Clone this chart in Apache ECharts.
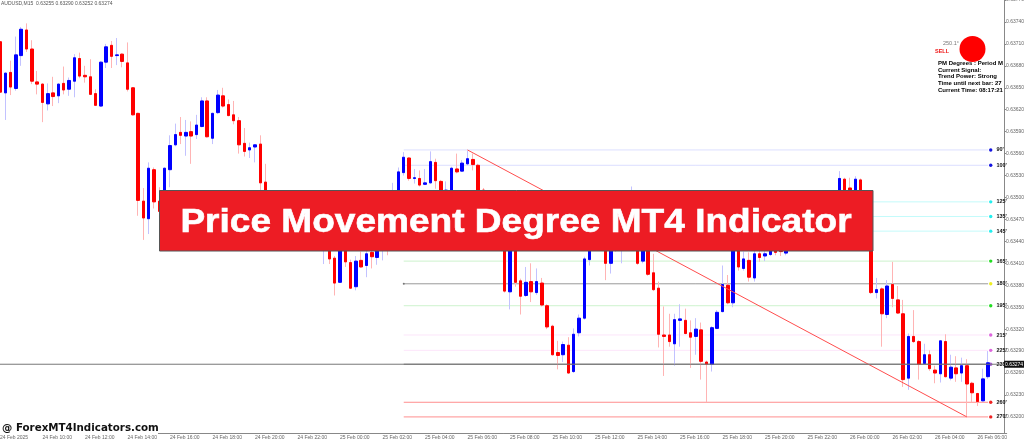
<!DOCTYPE html>
<html>
<head>
<meta charset="utf-8">
<title>Price Movement Degree MT4 Indicator</title>
<script src="https://cdn.jsdelivr.net/npm/echarts@6/dist/echarts.min.js"></script>
<style>
  html, body { margin: 0; padding: 0; background: #fff; overflow: hidden; }
  #chart { width: 1024px; height: 441px; filter: blur(0.45px); }
</style>
</head>
<body>
<div id="chart"></div>
<script>
// AUDUSD M15 bars (bars behind the banner are estimates)
var barOpen = [
  0.63713,0.63643,0.63671,0.63649,0.63694,0.63729,0.63703,0.63658,0.63655,0.63628,0.63643,0.63639,0.63656,0.63648,0.63659,0.63690,
  0.63667,0.63665,0.63642,0.63625,0.63685,0.63708,0.63694,0.63696,0.63684,0.63650,0.63615,0.63495,0.63471,0.63538,0.63495,0.63500,
  0.63538,0.63572,0.63589,0.63584,0.63590,0.63586,0.63597,0.63632,0.63581,0.63616,0.63639,0.63627,0.63613,0.63605,0.63574,0.63565,
  0.63569,0.63573,0.63521,0.63496,0.63478,0.63492,0.63470,0.63455,0.63472,0.63450,0.63440,0.63458,0.63445,0.63432,0.63445,0.63417,
  0.63384,0.63440,0.63411,0.63378,0.63414,0.63407,0.63425,0.63418,0.63430,0.63445,0.63470,0.63480,0.63534,0.63554,0.63526,0.63526,
  0.63518,0.63520,0.63548,0.63522,0.63500,0.63495,0.63539,0.63536,0.63546,0.63552,0.63544,0.63510,0.63485,0.63500,0.63475,0.63450,
  0.63371,0.63440,0.63386,0.63366,0.63385,0.63370,0.63383,0.63352,0.63324,0.63288,0.63285,0.63298,0.63262,0.63315,0.63335,0.63415,
  0.63440,0.63432,0.63445,0.63410,0.63440,0.63430,0.63445,0.63435,0.63450,0.63413,0.63448,0.63397,0.63376,0.63312,0.63312,0.63300,
  0.63332,0.63332,0.63315,0.63310,0.63319,0.63275,0.63272,0.63321,0.63344,0.63380,0.63356,0.63440,0.63403,0.63414,0.63390,0.63423,
  0.63420,0.63422,0.63428,0.63428,0.63424,0.63430,0.63445,0.63435,0.63455,0.63470,0.63455,0.63480,0.63495,0.63480,0.63490,0.63525,
  0.63513,0.63495,0.63524,0.63495,0.63480,0.63370,0.63375,0.63340,0.63381,0.63360,0.63341,0.63253,0.63310,0.63303,0.63273,0.63285,
  0.63264,0.63259,0.63303,0.63253,0.63267,0.63260,0.63270,0.63246,0.63232,0.63222,0.63255
];
var barClose = [
  0.63644,0.63670,0.63651,0.63695,0.63730,0.63703,0.63659,0.63655,0.63630,0.63642,0.63638,0.63655,0.63647,0.63660,0.63691,0.63666,
  0.63665,0.63641,0.63626,0.63685,0.63706,0.63693,0.63695,0.63686,0.63648,0.63613,0.63496,0.63472,0.63540,0.63494,0.63481,0.63540,
  0.63571,0.63586,0.63585,0.63589,0.63584,0.63599,0.63632,0.63583,0.63615,0.63640,0.63625,0.63612,0.63605,0.63572,0.63563,0.63568,
  0.63572,0.63520,0.63495,0.63480,0.63492,0.63470,0.63455,0.63472,0.63450,0.63440,0.63458,0.63445,0.63435,0.63448,0.63416,0.63383,
  0.63440,0.63412,0.63376,0.63413,0.63405,0.63423,0.63419,0.63440,0.63445,0.63432,0.63500,0.63535,0.63555,0.63526,0.63527,0.63517,
  0.63520,0.63549,0.63523,0.63495,0.63510,0.63540,0.63535,0.63547,0.63553,0.63545,0.63490,0.63485,0.63500,0.63475,0.63450,0.63372,
  0.63440,0.63384,0.63365,0.63384,0.63371,0.63385,0.63353,0.63323,0.63285,0.63284,0.63299,0.63260,0.63313,0.63335,0.63416,0.63440,
  0.63432,0.63445,0.63410,0.63440,0.63428,0.63445,0.63435,0.63450,0.63410,0.63450,0.63395,0.63374,0.63313,0.63310,0.63303,0.63333,
  0.63334,0.63314,0.63309,0.63320,0.63276,0.63272,0.63322,0.63343,0.63381,0.63356,0.63440,0.63405,0.63416,0.63391,0.63423,0.63418,
  0.63423,0.63427,0.63425,0.63426,0.63428,0.63445,0.63435,0.63455,0.63470,0.63455,0.63480,0.63495,0.63480,0.63490,0.63526,0.63495,
  0.63495,0.63525,0.63495,0.63480,0.63370,0.63374,0.63341,0.63379,0.63362,0.63342,0.63251,0.63310,0.63303,0.63272,0.63285,0.63266,
  0.63260,0.63304,0.63255,0.63268,0.63259,0.63270,0.63245,0.63233,0.63221,0.63252,0.63274
];
var barLow = [
  0.63641,0.63606,0.63640,0.63646,0.63680,0.63699,0.63655,0.63641,0.63603,0.63619,0.63625,0.63629,0.63641,0.63639,0.63637,0.63663,
  0.63657,0.63640,0.63625,0.63624,0.63677,0.63677,0.63681,0.63678,0.63645,0.63612,0.63475,0.63442,0.63450,0.63485,0.63478,0.63495,
  0.63514,0.63570,0.63573,0.63557,0.63546,0.63580,0.63596,0.63582,0.63573,0.63614,0.63623,0.63611,0.63600,0.63560,0.63556,0.63554,
  0.63548,0.63510,0.63485,0.63474,0.63472,0.63465,0.63450,0.63450,0.63445,0.63436,0.63435,0.63440,0.63430,0.63409,0.63409,0.63366,
  0.63383,0.63405,0.63375,0.63373,0.63404,0.63391,0.63403,0.63408,0.63414,0.63421,0.63465,0.63470,0.63530,0.63523,0.63519,0.63515,
  0.63517,0.63519,0.63512,0.63490,0.63495,0.63490,0.63533,0.63535,0.63544,0.63537,0.63485,0.63480,0.63480,0.63470,0.63440,0.63370,
  0.63347,0.63378,0.63340,0.63364,0.63357,0.63367,0.63351,0.63320,0.63284,0.63265,0.63275,0.63259,0.63260,0.63310,0.63333,0.63407,
  0.63428,0.63428,0.63387,0.63396,0.63426,0.63410,0.63430,0.63430,0.63408,0.63410,0.63393,0.63372,0.63295,0.63256,0.63296,0.63270,
  0.63296,0.63313,0.63267,0.63285,0.63251,0.63220,0.63262,0.63320,0.63343,0.63354,0.63350,0.63400,0.63400,0.63385,0.63385,0.63412,
  0.63413,0.63420,0.63421,0.63420,0.63421,0.63428,0.63430,0.63432,0.63450,0.63450,0.63452,0.63475,0.63475,0.63475,0.63485,0.63490,
  0.63490,0.63490,0.63490,0.63470,0.63368,0.63362,0.63296,0.63335,0.63350,0.63341,0.63241,0.63237,0.63301,0.63251,0.63272,0.63263,
  0.63246,0.63247,0.63254,0.63250,0.63248,0.63248,0.63200,0.63220,0.63215,0.63221,0.63252
];
var barHigh = [
  0.63719,0.63671,0.63687,0.63720,0.63733,0.63738,0.63715,0.63673,0.63656,0.63656,0.63665,0.63656,0.63679,0.63664,0.63696,0.63698,
  0.63680,0.63689,0.63648,0.63686,0.63710,0.63714,0.63718,0.63697,0.63712,0.63651,0.63616,0.63513,0.63548,0.63541,0.63514,0.63541,
  0.63585,0.63601,0.63610,0.63606,0.63604,0.63613,0.63637,0.63637,0.63616,0.63647,0.63650,0.63634,0.63632,0.63610,0.63595,0.63575,
  0.63573,0.63585,0.63546,0.63503,0.63498,0.63497,0.63474,0.63478,0.63476,0.63455,0.63462,0.63465,0.63450,0.63455,0.63450,0.63420,
  0.63445,0.63445,0.63415,0.63420,0.63426,0.63428,0.63432,0.63445,0.63450,0.63455,0.63520,0.63541,0.63562,0.63555,0.63539,0.63537,
  0.63539,0.63563,0.63553,0.63524,0.63522,0.63542,0.63560,0.63551,0.63564,0.63560,0.63546,0.63513,0.63505,0.63503,0.63480,0.63455,
  0.63445,0.63445,0.63389,0.63405,0.63410,0.63403,0.63390,0.63354,0.63326,0.63304,0.63303,0.63309,0.63321,0.63340,0.63419,0.63448,
  0.63450,0.63455,0.63450,0.63445,0.63445,0.63450,0.63455,0.63515,0.63455,0.63455,0.63452,0.63423,0.63385,0.63351,0.63341,0.63341,
  0.63354,0.63348,0.63332,0.63335,0.63329,0.63277,0.63324,0.63346,0.63407,0.63394,0.63445,0.63445,0.63426,0.63425,0.63428,0.63430,
  0.63428,0.63432,0.63435,0.63434,0.63432,0.63450,0.63450,0.63460,0.63478,0.63475,0.63485,0.63500,0.63500,0.63505,0.63536,0.63527,
  0.63527,0.63529,0.63526,0.63500,0.63485,0.63390,0.63377,0.63387,0.63412,0.63379,0.63360,0.63314,0.63346,0.63305,0.63300,0.63291,
  0.63270,0.63305,0.63313,0.63285,0.63283,0.63281,0.63279,0.63248,0.63233,0.63266,0.63290
];

// one label every 8 bars (2 hours)
var tickLabels = [
  "24 Feb 2025","24 Feb 10:00","24 Feb 12:00","24 Feb 14:00","24 Feb 16:00","24 Feb 18:00","24 Feb 20:00","24 Feb 22:00",
  "25 Feb 00:00","25 Feb 02:00","25 Feb 04:00","25 Feb 06:00","25 Feb 08:00","25 Feb 10:00","25 Feb 12:00","25 Feb 14:00",
  "25 Feb 16:00","25 Feb 18:00","25 Feb 20:00","25 Feb 22:00","26 Feb 00:00","26 Feb 02:00","26 Feb 04:00","26 Feb 06:00"
];
var priceTicks = [
  0.632,0.6323,0.6326,0.6329,0.6332,0.6335,0.6338,0.6341,0.6344,0.6347,
  0.635,0.6353,0.6356,0.6359,0.6362,0.6365,0.6368,0.6371,0.6374,0.6377
];

// degree levels on the right
var levelNames  = ["90'","100'","125'","135'","145'","165'","180'","195'","215'","225'","235'","260'","270'"];
var levelPrices = [0.63565,0.63544,0.63494,0.63474,0.63454,0.63413,0.63382,0.63352,0.63312,0.63291,0.63272,0.63220,0.63200];
var levelLines  = ["#dcdfff","#dcdfff","#c4fbfb","#c4fbfb","#c4fbfb","#cdf3cd","#9a9a9a","#cdf3cd","#fde6fb","#fde6fb","#777777","#ff8e8e","#ff8e8e"];
var levelDots   = ["#1414e0","#1414e0","#22eeee","#22eeee","#22eeee","#22dd22","#eeee22","#22dd22","#dd66dd","#dd66dd","#aa55dd","#ee2222","#ee2222"];
var levelStart = 76;
var levelEnd = 186;

var trendBars = [88, 182];
var trendPrices = [0.63565, 0.63200];
var lastLine = 0.63272;
var lastTag = "0.63274";

var categories = [];
for (var i = 0; i < 190; i++) {
  categories.push(i % 8 === 0 && tickLabels[i / 8] ? tickLabels[i / 8] : "");
}

var wickRows = [];
var bodyRows = [];
for (var b = 0; b < barOpen.length; b++) {
  wickRows.push([barOpen[b], barClose[b], barLow[b], barHigh[b]]);
  bodyRows.push([
    barOpen[b], barClose[b],
    Math.min(barOpen[b], barClose[b]),
    Math.max(barOpen[b], barClose[b]),
  ]);
}

var smallFont = '"Liberation Sans", Arial, sans-serif';

var series = [
  {
    name: "wicks",
    type: "candlestick",
    data: wickRows,
    barWidth: 2,
    z: 2,
    itemStyle: {
      color: "#c2c2ff",
      color0: "#ffb4b4",
      borderColor: "#c2c2ff",
      borderColor0: "#ffb4b4",
      borderWidth: 1,
    },
  },
  {
    name: "bodies",
    type: "candlestick",
    data: bodyRows,
    barWidth: 3,
    z: 3,
    itemStyle: {
      color: "#0000ff",
      color0: "#ff0000",
      borderColor: "#0000ff",
      borderColor0: "#ff0000",
      borderWidth: 1,
    },
  },
  {
    name: "trend",
    type: "line",
    data: [
      [trendBars[0], trendPrices[0]],
      [trendBars[1], trendPrices[1]],
    ],
    symbol: "none",
    z: 4,
    lineStyle: { color: "#ff4d4d", width: 1 },
  },
  {
    // current price line, full width with the black tag at the axis
    name: "last",
    type: "line",
    z: 4,
    symbol: "circle",
    symbolSize: 0,
    lineStyle: { color: "#777", width: 1 },
    data: [
      [0, lastLine],
      {
        value: [189, lastLine],
        label: {
          show: true,
          position: "right",
          distance: 0,
          formatter: lastTag,
          color: "#fff",
          backgroundColor: "#111",
          padding: [1, 1],
          fontSize: 5,
          fontFamily: smallFont,
        },
      },
    ],
  },
];

levelNames.forEach(function (name, n) {
  series.push({
    name: name,
    type: "line",
    z: 1,
    symbol: "circle",
    symbolSize: function (val, params) {
      if (params.dataIndex === 1) return 3.4;
      return name === "180'" ? 2 : 0;
    },
    lineStyle: { color: levelLines[n], width: 1 },
    itemStyle: { color: levelDots[n] },
    data: [
      { value: [levelStart, levelPrices[n]], itemStyle: { color: "#777" } },
      {
        value: [levelEnd, levelPrices[n]],
        symbolOffset: [2.6, 0],
        label: {
          show: true,
          position: "right",
          distance: 4,
          formatter: name,
          color: "#111",
          fontSize: 5.5,
          fontWeight: "bold",
          fontFamily: smallFont,
        },
      },
    ],
  });
});

var panelLines = [
  "PM Degrees : Period M",
  "Current Signal:",
  "Trend Power: Strong",
  "Time until next bar: 27",
  "Current Time: 08:17:21",
];

var graphics = [
  {
    type: "text",
    z: 20,
    style: { x: 1, y: 1, text: "AUDUSD,M15  0.63255 0.63290 0.63252 0.63274", fill: "#555", font: "5px " + smallFont },
  },
  { type: "circle", z: 20, shape: { cx: 972.5, cy: 49, r: 13 }, style: { fill: "#ff0000" } },
  {
    type: "text",
    z: 20,
    style: { x: 943, y: 40.5, text: "250.1°", fill: "#777", font: "5.5px " + smallFont },
  },
  {
    type: "text",
    z: 20,
    style: { x: 935, y: 48, text: "SELL", fill: "#ee1111", font: "bold 5.5px " + smallFont },
  },
  // banner on top of the chart
  {
    type: "rect",
    z: 30,
    shape: { x: 159.5, y: 190.5, width: 713.5, height: 60.5 },
    style: { fill: "#ed1c24", stroke: "#555", lineWidth: 1 },
  },
  {
    type: "text",
    z: 31,
    x: 516,
    y: 223.5,
    scaleX: 1.14,
    style: {
      x: 0,
      y: 0,
      text: "Price Movement Degree MT4 Indicator",
      fill: "#fff",
      stroke: "#fff",
      lineWidth: 0.6,
      align: "center",
      verticalAlign: "middle",
      font: 'bold 32.5px "Liberation Sans", Arial, sans-serif',
    },
  },
  // watermark sits on a white strip over the time axis
  { type: "rect", z: 30, shape: { x: 0, y: 421, width: 158, height: 13 }, style: { fill: "#fff" } },
  {
    type: "text",
    z: 31,
    style: {
      x: 2,
      y: 428,
      text: "@ ForexMT4Indicators.com",
      fill: "#111",
      verticalAlign: "middle",
      font: 'bold 10.3px "DejaVu Sans", sans-serif',
    },
  },
];

panelLines.forEach(function (line, n) {
  graphics.push({
    type: "text",
    z: 20,
    style: { x: 938, y: 60.5 + n * 6.6, text: line, fill: "#000", font: "bold 6px " + smallFont },
  });
});

var chart = echarts.init(document.getElementById("chart"));
chart.setOption({
  animation: false,
  backgroundColor: "#fff",
  grid: { left: -2.66, top: 0, width: 1009.375, height: 433, containLabel: false, outerBoundsMode: "none" },
  xAxis: {
    type: "category",
    data: categories,
    boundaryGap: true,
    axisLine: { lineStyle: { color: "#888", width: 1 } },
    axisTick: {
      alignWithLabel: true,
      length: 2,
      lineStyle: { color: "#888" },
      interval: function (i, v) { return v !== ""; },
    },
    axisLabel: {
      interval: function (i, v) { return v !== ""; },
      align: "left",
      margin: 2,
      color: "#666",
      fontSize: 5,
      fontFamily: smallFont,
    },
    splitLine: { show: false },
  },
  yAxis: {
    type: "value",
    position: "right",
    offset: -2.66,
    min: 0.63178,
    max: 0.6377,
    axisLine: { show: true, lineStyle: { color: "#888", width: 1 } },
    axisTick: { show: true, length: 2, lineStyle: { color: "#888" }, customValues: priceTicks },
    axisLabel: {
      show: true,
      customValues: priceTicks,
      margin: 2,
      padding: [3, 0, 0, 0],
      color: "#666",
      fontSize: 5,
      fontFamily: smallFont,
      formatter: function (v) { return v.toFixed(5); },
    },
    splitLine: { show: false },
  },
  series: series,
  graphic: graphics,
});
</script>
</body>
</html>
